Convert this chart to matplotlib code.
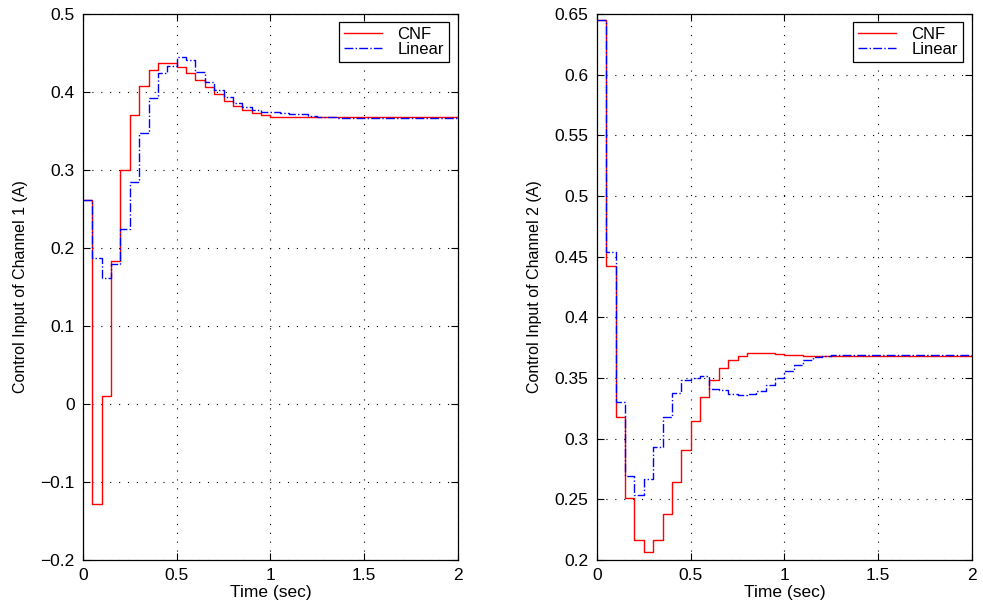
import numpy as np
import matplotlib
matplotlib.use("Agg")
import matplotlib.pyplot as plt

plt.rcParams['font.family'] = ['Liberation Sans', 'DejaVu Sans']

# sample instants (sampling period 0.05 s, 0 .. 2 s)
t = np.round(np.arange(41) * 0.05, 2)

# channel 1, value held over each sample period
cnf_ch1 = [0.261, -0.128, 0.010, 0.183, 0.300, 0.370, 0.408, 0.428, 0.437, 0.437,
           0.432, 0.425, 0.415, 0.406, 0.397, 0.389, 0.382, 0.377, 0.3735, 0.3705,
           0.3685, 0.3678, 0.3676, 0.3675, 0.3675, 0.3675, 0.3675, 0.3675, 0.3675, 0.3675,
           0.3675, 0.3675, 0.3675, 0.3675, 0.3675, 0.3675, 0.3675, 0.3675, 0.3675, 0.3675]
lin_ch1 = [0.261, 0.187, 0.162, 0.180, 0.224, 0.284, 0.347, 0.392, 0.424, 0.433,
           0.445, 0.441, 0.426, 0.413, 0.403, 0.394, 0.386, 0.381, 0.377, 0.375,
           0.3748, 0.3735, 0.372, 0.3714, 0.3697, 0.3685, 0.3675, 0.367, 0.3662, 0.3662,
           0.3662, 0.3662, 0.3662, 0.3662, 0.3662, 0.3662, 0.3662, 0.3662, 0.3668, 0.3668]

# channel 2
cnf_ch2 = [0.645, 0.442, 0.318, 0.251, 0.2165, 0.207, 0.2165, 0.238, 0.264, 0.2907,
           0.3146, 0.334, 0.3484, 0.358, 0.3648, 0.368, 0.3703, 0.3706, 0.3706, 0.3698,
           0.369, 0.3687, 0.368, 0.368, 0.368, 0.368, 0.368, 0.368, 0.368, 0.368,
           0.368, 0.368, 0.368, 0.368, 0.368, 0.368, 0.368, 0.368, 0.3678, 0.3678]
lin_ch2 = [0.645, 0.454, 0.330, 0.269, 0.254, 0.2665, 0.293, 0.318, 0.338, 0.348,
           0.350, 0.3515, 0.341, 0.340, 0.337, 0.336, 0.337, 0.3395, 0.3445, 0.350,
           0.356, 0.3604, 0.365, 0.367, 0.3685, 0.369, 0.369, 0.369, 0.369, 0.369,
           0.369, 0.369, 0.369, 0.3688, 0.3688, 0.3688, 0.3688, 0.3688, 0.3688, 0.3688]

xticks = [0, 0.5, 1, 1.5, 2]
xticklabels = ['0', '0.5', '1', '1.5', '2']
yticks1 = [-0.2, -0.1, 0, 0.1, 0.2, 0.3, 0.4, 0.5]
yticklabels1 = ['\u22120.2', '\u22120.1', '0', '0.1', '0.2', '0.3', '0.4', '0.5']
yticks2 = [0.2, 0.25, 0.3, 0.35, 0.4, 0.45, 0.5, 0.55, 0.6, 0.65]
yticklabels2 = ['0.2', '0.25', '0.3', '0.35', '0.4', '0.45', '0.5', '0.55', '0.6', '0.65']

fig = plt.figure(figsize=(9.83, 6.04), dpi=100)
ax1 = fig.add_axes([0.0844, 0.0728, 0.3815, 0.904])
ax2 = fig.add_axes([0.6073, 0.0728, 0.3815, 0.904])


def draw(ax, cnf, lin, yticks, yticklabels, ylabel):
    ax.step(t, cnf + [cnf[-1]], where='post', color='red', lw=1.0, label='CNF')
    ax.step(t, lin + [lin[-1]], where='post', color='blue', lw=1.0,
            linestyle='-.', label='Linear')
    ax.set_xlim(0, 2)
    ax.set_ylim(yticks[0], yticks[-1])
    ax.set_xticks(xticks)
    ax.set_xticklabels(xticklabels)
    ax.set_yticks(yticks)
    ax.set_yticklabels(yticklabels)
    ax.tick_params(direction='in', top=True, right=True, length=5, width=0.8,
                   labelsize=12.5, pad=6)
    ax.grid(True, color='black', linestyle=(0, (1, 7)), lw=0.8)
    for s in ax.spines.values():
        s.set_linewidth(0.9)
    ax.set_xlabel('Time (sec)', fontsize=12.5, labelpad=1)
    ax.set_ylabel(ylabel, fontsize=11.5, labelpad=9)
    leg = ax.legend(loc='upper right', bbox_to_anchor=(0.976, 0.986),
                    borderaxespad=0, fancybox=False, framealpha=1,
                    edgecolor='black', fontsize=12, handlelength=2.3,
                    borderpad=0.3, labelspacing=0.0, handletextpad=0.9)
    leg.get_frame().set_linewidth(0.9)


draw(ax1, cnf_ch1, lin_ch1, yticks1, yticklabels1, 'Control Input of Channel 1 (A)')
draw(ax2, cnf_ch2, lin_ch2, yticks2, yticklabels2, 'Control Input of Channel 2 (A)')

fig.savefig('out.png', dpi=100)
